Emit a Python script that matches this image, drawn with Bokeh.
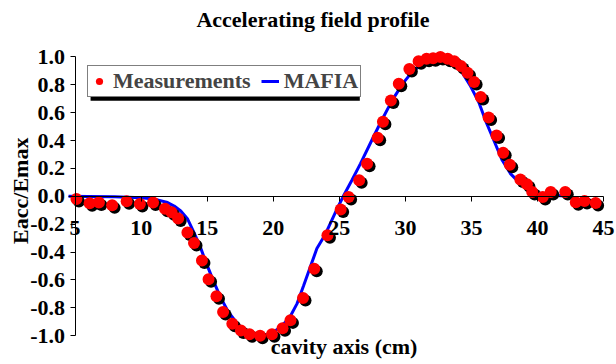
import numpy as np
from bokeh.plotting import figure
from bokeh.models import (LinearAxis, FixedTicker, Range1d, Label, Legend, LegendItem,
                          BoxAnnotation, ColumnDataSource)
from bokeh.transform import dodge
from bokeh.embed import file_html
from bokeh.resources import INLINE

# ---------------- data ----------------
title_text = "Accelerating field profile"
x_label = "cavity axis (cm)"
y_label = "Eacc/Emax"

x_ticks = [5, 10, 15, 20, 25, 30, 35, 40, 45]
y_ticks = [-1.0, -0.8, -0.6, -0.4, -0.2, 0.0, 0.2, 0.4, 0.6, 0.8, 1.0]
y_tick_labels = ["-1.0", "-0.8", "-0.6", "-0.4", "-0.2", "0.0", "0.2", "0.4", "0.6", "0.8", "1.0"]

meas_x = [5.1, 6.1, 6.8, 7.8, 8.9, 9.9, 10.9, 11.8, 12.3, 12.8, 13.5, 14.0, 14.6, 15.1,
          15.7, 16.2, 16.9, 17.55, 18.2, 19.0, 19.9, 20.7, 21.3, 22.25, 23.1, 24.1, 25.1,
          25.7, 26.5, 27.1, 27.9, 28.3, 28.9, 29.5, 30.3, 31.0, 31.6, 32.1, 32.65, 33.2,
          33.7, 34.2, 34.7, 35.2, 35.7, 36.3, 36.9, 37.4, 37.9, 38.7, 39.2, 39.6, 40.4,
          41.0, 42.1, 42.9, 43.56, 44.4]
meas_y = [-0.02, -0.05, -0.045, -0.065, -0.035, -0.055, -0.045, -0.09, -0.115, -0.16,
          -0.26, -0.335, -0.46, -0.595, -0.717, -0.83, -0.915, -0.963, -0.99, -1.0, -0.99,
          -0.946, -0.89, -0.73, -0.52, -0.28, -0.095, -0.005, 0.115, 0.234, 0.42, 0.535,
          0.688, 0.808, 0.913, 0.968, 0.987, 0.99, 0.999, 0.987, 0.968, 0.934, 0.887, 0.82,
          0.712, 0.565, 0.437, 0.313, 0.227, 0.12, 0.086, 0.031, -0.005, 0.031, 0.031,
          -0.043, -0.034, -0.048]

mafia_x = [4.5, 6, 8, 10, 11, 12, 12.5, 13, 13.5, 14.0, 14.5, 14.85, 15.35, 15.98, 16.6,
           17.37, 18.26, 19.0, 19.8, 20.5, 21.2, 21.8, 22.3, 22.8, 23.3, 23.9, 24.8, 25.3,
           25.95, 26.6, 27.55, 28.15, 29.0, 29.8, 30.6, 31.4, 32.4, 33.4, 34.2, 34.9, 35.55,
           36.06, 36.7, 37.33, 37.95, 38.7, 39.7, 41.0, 42.5]
mafia_y = [0.0, -0.001, -0.003, -0.01, -0.02, -0.045, -0.07, -0.105, -0.16, -0.26, -0.37,
           -0.46, -0.58, -0.72, -0.83, -0.925, -0.98, -1.0, -0.99, -0.94, -0.877, -0.77,
           -0.64, -0.507, -0.375, -0.28, -0.095, 0.0, 0.115, 0.234, 0.42, 0.535, 0.688,
           0.808, 0.903, 0.952, 0.975, 0.95, 0.903, 0.796, 0.676, 0.545, 0.40, 0.258, 0.163,
           0.091, 0.031, 0.007, 0.0]

FONT = "Liberation Serif"

# frame covers the whole canvas; ranges chosen so the plot area sits where the reference has it
p = figure(width=616, height=364, x_range=Range1d(-0.648, 45.98),
           y_range=Range1d(-1.2066, 1.4046),
           output_backend="svg", toolbar_location=None,
           x_axis_location=None, y_axis_location=None,
           min_border_left=0, min_border_right=0, min_border_top=0, min_border_bottom=0,
           outline_line_color=None, background_fill_color="white", border_fill_color="white")
for g in p.grid:
    g.visible = False

xaxis = LinearAxis(fixed_location=0, ticker=FixedTicker(ticks=x_ticks), bounds=(4.5, 45))
yaxis = LinearAxis(fixed_location=5, ticker=FixedTicker(ticks=y_ticks), bounds=(-1, 1),
                   major_label_overrides={v: s for v, s in zip(y_ticks, y_tick_labels)})
for ax in (xaxis, yaxis):
    ax.axis_line_color = "black"
    ax.axis_line_width = 1
    ax.major_tick_line_color = "black"
    ax.major_tick_in = 0
    ax.major_tick_out = 5
    ax.minor_tick_line_color = None
    ax.major_label_text_font = FONT
    ax.major_label_text_font_style = "bold"
    ax.major_label_text_font_size = "22px"
    ax.major_label_text_color = "black"
xaxis.major_label_standoff = 20
yaxis.major_label_standoff = 5
p.add_layout(xaxis, "below")
p.add_layout(yaxis, "left")

src = ColumnDataSource(dict(x=meas_x, y=meas_y))
r_line = p.line(mafia_x, mafia_y, line_color="#0000FF", line_width=3)
p.scatter(x=dodge("x", 0.19, range=p.x_range), y=dodge("y", -0.018, range=p.y_range),
          source=src, size=12, fill_color="black", line_color=None)
r_meas = p.scatter("x", "y", source=src, size=12, fill_color="#FF0000", line_color=None)

# legend shadow
p.add_layout(BoxAnnotation(left=6.17, right=26.55, top=0.89, bottom=0.686,
                           fill_color="black", fill_alpha=1.0, line_color=None))
legend = Legend(items=[LegendItem(label="Measurements", renderers=[r_meas]),
                       LegendItem(label="MAFIA", renderers=[r_line])],
                orientation="horizontal", location=(87, 267),
                padding=2, margin=0, spacing=10, glyph_width=18, glyph_height=18,
                label_standoff=5, label_text_font=FONT, label_text_font_style="bold",
                label_text_font_size="22px", label_height=18, label_text_line_height=1.0,
                border_line_color="black", border_line_width=1,
                background_fill_color="white", background_fill_alpha=1.0)
p.add_layout(legend, "center")

p.add_layout(Label(x=23.0, y=1.27, text=title_text, text_align="center",
                   text_baseline="alphabetic", text_font=FONT, text_font_style="bold",
                   text_font_size="22px", text_color="black"))
p.add_layout(Label(x=25.36, y=-1.08, text=x_label, text_align="center",
                   text_baseline="alphabetic", text_font=FONT, text_font_style="bold",
                   text_font_size="22px", text_color="black"))
p.add_layout(Label(x=0.87, y=0.04, text=y_label, text_align="center", angle=np.pi / 2,
                   text_baseline="middle", text_font=FONT, text_font_style="bold",
                   text_font_size="22px", text_color="black"))

open("out.html", "w").write(file_html(p, INLINE))
